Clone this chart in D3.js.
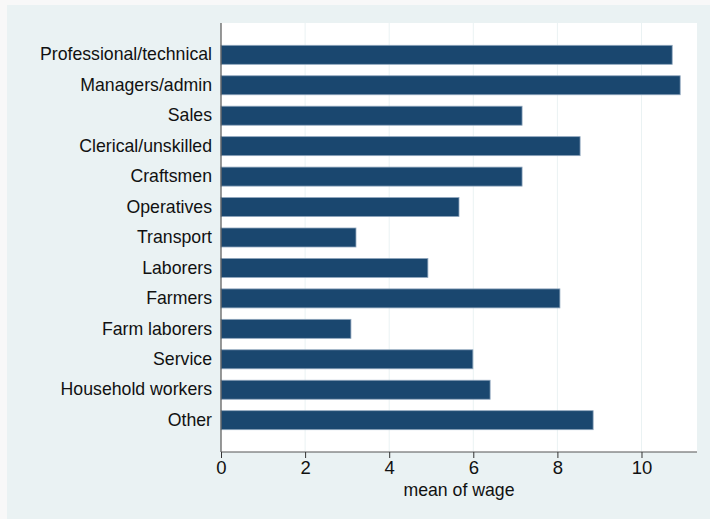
<!DOCTYPE html>
<html>
<head>
<meta charset="utf-8">
<script src="https://cdn.jsdelivr.net/npm/d3@7"></script>
<style>
  body { margin: 0; background: #f8f8f8; }
  svg { display: block; font-family: "Liberation Sans", Arial, sans-serif; }
</style>
</head>
<body>
<svg id="chart" width="710" height="519"></svg>
<script>
const categories = ["Professional/technical", "Managers/admin", "Sales", "Clerical/unskilled",
  "Craftsmen", "Operatives", "Transport", "Laborers", "Farmers", "Farm laborers",
  "Service", "Household workers", "Other"];
const meanWage = [10.73, 10.92, 7.16, 8.54, 7.16, 5.66, 3.21, 4.92, 8.06, 3.09, 5.99, 6.40, 8.85];
const xTicks = [0, 2, 4, 6, 8, 10];

const svg = d3.select("#chart");
const margin = { top: 23, right: 13, bottom: 67, left: 221 };
const width = 710, height = 519;

// graph region
svg.append("rect")
  .attr("x", 7).attr("y", 5)
  .attr("width", width - 7).attr("height", height - 5)
  .attr("fill", "#eaf2f3");

const x = d3.scaleLinear().domain([0, 11.32]).range([margin.left, width - margin.right]);
const y = d3.scaleBand().domain(categories)
  .range([margin.top, height - margin.bottom])
  .paddingInner(0.376).paddingOuter(0.733);

// plot region
svg.append("rect")
  .attr("x", margin.left).attr("y", margin.top)
  .attr("width", width - margin.right - margin.left)
  .attr("height", height - margin.bottom - margin.top)
  .attr("fill", "#fff");

// grid
svg.append("g").selectAll("line")
  .data(xTicks.filter(d => d > 0))
  .enter().append("line")
  .attr("x1", d => x(d)).attr("x2", d => x(d))
  .attr("y1", margin.top).attr("y2", height - margin.bottom)
  .attr("stroke", "#eaf2f3").attr("stroke-width", 1);

const data = categories.map((c, i) => ({ cat: c, value: meanWage[i] }));

svg.append("g").selectAll("rect")
  .data(data)
  .enter().append("rect")
  .attr("x", x(0))
  .attr("y", d => y(d.cat))
  .attr("width", d => x(d.value) - x(0))
  .attr("height", y.bandwidth())
  .attr("fill", "#1a476f")
  .attr("stroke", "#8fa6bd")
  .attr("stroke-width", 0.8);

// x axis
const xAxis = svg.append("g")
  .attr("transform", `translate(0,${height - margin.bottom})`)
  .call(d3.axisBottom(x).tickValues(xTicks).tickSize(6).tickPadding(3).tickFormat(d3.format("d")));
xAxis.select(".domain").attr("stroke", "#555").attr("stroke-width", 1.2)
  .attr("d", `M${x(0)},0H${width - margin.right}`);
xAxis.selectAll(".tick line").attr("stroke", "#333");
xAxis.selectAll(".tick text").attr("font-size", 18.5).attr("fill", "#111");

// y axis
const yAxis = svg.append("g")
  .attr("transform", `translate(${margin.left},0)`)
  .call(d3.axisLeft(y).tickSize(0).tickPadding(9));
yAxis.select(".domain").attr("stroke", "#555").attr("stroke-width", 1.2)
  .attr("d", `M0,${margin.top}V${height - margin.bottom}`);
yAxis.selectAll(".tick text").attr("font-size", 17.7).attr("fill", "#111");

svg.append("text")
  .attr("x", (x(0) + width - margin.right) / 2)
  .attr("y", 496)
  .attr("text-anchor", "middle")
  .attr("font-size", 17.7)
  .attr("fill", "#111")
  .text("mean of wage");
</script>
</body>
</html>
